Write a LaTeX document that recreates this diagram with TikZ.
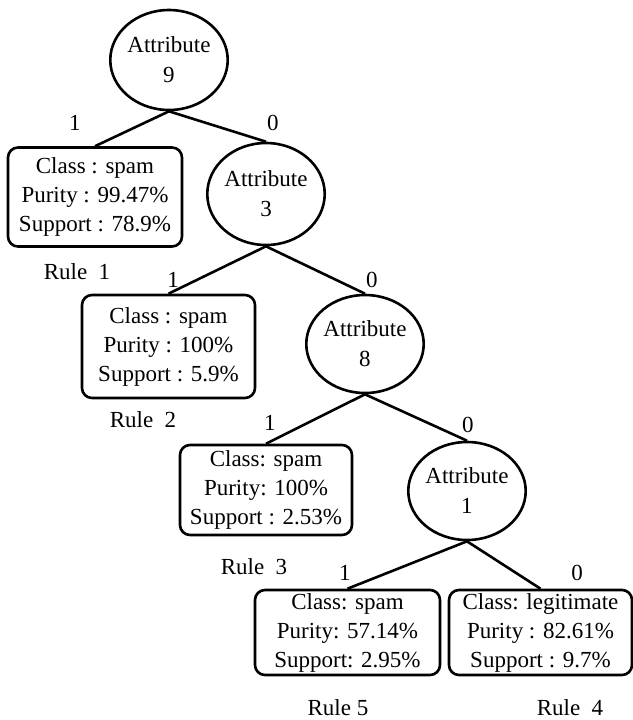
\documentclass[tikz,border=0pt]{standalone}
\usepackage{fontspec}
\setmainfont{Liberation Serif}
\usetikzlibrary{shapes.geometric}

\begin{document}
\begin{tikzpicture}[x=0.5pt, y=-0.5pt, line width=1.3pt,
    attr/.style={ellipse, draw, inner sep=0pt, align=center},
    leaf/.style={draw, rounded corners=5pt, inner sep=1pt, align=center},
    lbl/.style={inner sep=0pt}]
  \useasboundingbox (0,0) rectangle (633,720);
  \fontsize{11.5}{14.5}\selectfont
  % attribute tests
  \node[attr, minimum width=51pt, minimum height=50pt] (a9) at (169,60) {Attribute\\[0.5pt]9};
  \node[attr, minimum width=44pt, minimum height=51pt] (a3) at (266,194) {Attribute\\[0.5pt]3};
  \node[attr, minimum width=48pt, minimum height=49pt] (a8) at (365,344) {Attribute\\[0.5pt]8};
  \node[attr, minimum width=49.5pt, minimum height=49pt] (a1) at (467,491) {Attribute\\[0.5pt]1};
  % leaves
  \node[leaf, minimum width=87pt, minimum height=49.5pt] (b1) at (95,197)
    {Class : spam\\Purity : 99.47\%\\Support : 78.9\%};
  \node[leaf, minimum width=86.5pt, minimum height=51.5pt] (b2) at (168.5,346.5)
    {Class : spam\\Purity : 100\%\\Support : 5.9\%};
  \node[leaf, minimum width=86pt, minimum height=45pt] (b3) at (266,490)
    {Class: spam\\Purity: 100\%\\Support : 2.53\%};
  \node[leaf, minimum width=92.5pt, minimum height=42.5pt] (b5) at (347.5,632.5)
    {Class: spam\\Purity: 57.14\%\\Support: 2.95\%};
  \node[leaf, minimum width=91.5pt, minimum height=42.5pt] (b4) at (540.5,632.5)
    {Class: legitimate\\Purity : 82.61\%\\Support : 9.7\%};
  % branches
  \draw (a9.south) -- (b1.north);
  \draw (a9.south) -- (a3.north);
  \draw (a3.south) -- (b2.north);
  \draw (a3.south) -- (a8.north);
  \draw (a8.south) -- (b3.north);
  \draw (a8.south) -- (a1.north);
  \draw (a1.south) -- (b5.north);
  \draw (a1.south) -- (b4.north);
  % branch values
  \node[lbl] (v9a) at (75,123) {1};
  \node[lbl] (v9b) at (273,123) {0};
  \node[lbl] (v3a) at (173,280) {1};
  \node[lbl] (v3b) at (372,280) {0};
  \node[lbl] (v8a) at (270,423) {1};
  \node[lbl] (v8b) at (468,425) {0};
  \node[lbl] (v1a) at (345,573) {1};
  \node[lbl] (v1b) at (577,573) {0};
  % rules
  \node[lbl] (r1) at (77,272) {Rule\ \ 1};
  \node[lbl] (r2) at (143,420) {Rule\ \ 2};
  \node[lbl] (r3) at (254,567) {Rule\ \ 3};
  \node[lbl] (r5) at (338,708) {Rule 5};
  \node[lbl] (r4) at (570,708) {Rule\ \ 4};
\end{tikzpicture}
\end{document}
